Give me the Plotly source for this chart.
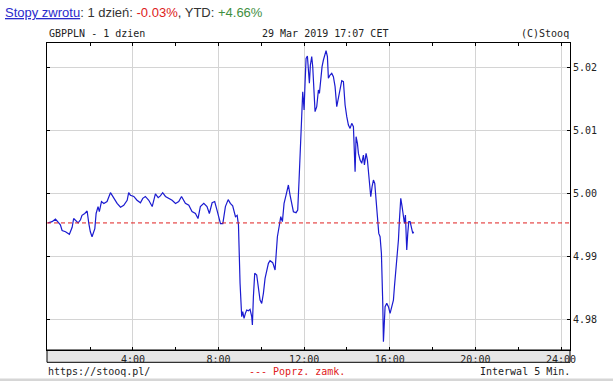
import plotly.graph_objects as go

# ---- data (GBPPLN, 29 Mar 2019, 5-min interval) ----
hours = [
    0.04, 0.22, 0.38, 0.50, 0.61, 0.69, 0.85, 1.03, 1.16, 1.23, 1.34, 1.44, 1.55, 1.62,
    1.75, 1.86, 1.94, 2.01, 2.09, 2.22, 2.28, 2.37, 2.43, 2.53, 2.64, 2.79, 2.95, 3.10,
    3.26, 3.42, 3.57, 3.73, 3.80, 3.88, 4.04, 4.19, 4.35, 4.46, 4.58, 4.74, 4.90, 5.05,
    5.18, 5.28, 5.39, 5.52, 5.67, 5.83, 5.99, 6.14, 6.27, 6.45, 6.61, 6.76, 6.92, 7.04,
    7.15, 7.31, 7.46, 7.57, 7.70, 7.82, 7.93, 8.09, 8.20, 8.32, 8.45, 8.55, 8.66, 8.79,
    8.87, 8.93,
    9.005, 9.036, 9.082, 9.129, 9.191, 9.254, 9.316, 9.394, 9.472, 9.550, 9.581, 9.628,
    9.690, 9.783, 9.861, 9.939, 10.017, 10.095, 10.173, 10.251, 10.329, 10.406, 10.531,
    10.640, 10.687, 10.749, 10.843, 10.905, 10.983, 11.061, 11.154, 11.263, 11.341,
    11.419, 11.497, 11.621, 11.699, 11.762, 11.808, 11.855, 11.902, 11.933, 11.964,
    11.995, 12.042, 12.089, 12.151, 12.198, 12.244, 12.291, 12.353, 12.400, 12.463,
    12.509, 12.587, 12.665, 12.712, 12.774, 12.836, 12.899, 12.977, 13.023, 13.086,
    13.132, 13.210, 13.288, 13.366, 13.444, 13.522, 13.600,
    13.678, 13.756, 13.834, 13.912, 13.990, 14.067, 14.145, 14.223, 14.301, 14.332,
    14.379, 14.426, 14.488, 14.535, 14.613, 14.690, 14.768, 14.815, 14.893, 14.955,
    15.033, 15.111, 15.173, 15.236, 15.298, 15.360, 15.423, 15.485, 15.547, 15.609,
    15.641, 15.672, 15.703, 15.750, 15.781, 15.859, 15.937, 16.014, 16.092, 16.170,
    16.217, 16.295, 16.357, 16.404, 16.451, 16.513, 16.575, 16.638, 16.684, 16.731,
    16.762, 16.793, 16.840, 16.887, 16.949, 17.011, 17.074, 17.117,
]
rate = [
    4.9953, 4.9955, 4.9959, 4.9955, 4.9950, 4.9941, 4.9939, 4.9935, 4.9946, 4.9960, 4.9957, 4.9953, 4.9958, 4.9965,
    4.9968, 4.9972, 4.9952, 4.9939, 4.9931, 4.9944, 4.9968, 4.9979, 4.9971, 4.9987, 4.9984, 4.9987, 5.0001, 4.9992,
    4.9984, 4.9978, 4.9981, 4.9989, 5.0001, 4.9997, 4.9995, 4.9989, 4.9985, 4.9992, 4.9995, 4.9989, 4.9979, 4.9999,
    4.9993, 4.9996, 5.0001, 4.9995, 4.9992, 4.9989, 4.9984, 4.9987, 4.9995, 4.9984, 4.9981, 4.9971, 4.9968, 4.9960,
    4.9979, 4.9984, 4.9979, 4.9968, 4.9985, 4.9987, 4.9973, 4.9952, 4.9952, 4.9979, 4.9990, 4.9984, 4.9980, 4.9963,
    4.9965, 4.9950,
    4.98571, 4.98200, 4.98042, 4.98121, 4.98015, 4.98095, 4.98148, 4.98137, 4.98158, 4.98042, 4.97910, 4.98359,
    4.98730, 4.98703, 4.98518, 4.98306, 4.98253, 4.98412, 4.98650, 4.98783, 4.98889, 4.98931, 4.98899,
    4.98783, 4.99047, 4.99311, 4.99497, 4.99629, 4.99550, 4.99841, 4.99973, 5.00132, 4.99973,
    4.99841, 4.99708, 4.99693, 4.99735, 5.00211, 5.00634, 5.01005, 5.01375, 5.01613, 5.01481,
    5.01322, 5.01746, 5.02142, 5.02179, 5.02010, 5.01746, 5.02037, 5.02169, 5.02010, 5.01481,
    5.01296, 5.01375, 5.01640, 5.01587, 5.01851, 5.02010, 5.02116, 5.02222, 5.02264, 5.02169,
    5.01825, 5.01878, 5.01904, 5.01851, 5.01693, 5.01375, 5.01534,
    5.01666, 5.01788, 5.01772, 5.01402, 5.01217, 5.01084, 5.01031, 5.01111, 5.01058, 5.00634,
    5.00343, 5.00899, 5.00793, 5.00634, 5.00528, 5.00476, 5.00608, 5.00449, 5.00634, 5.00528,
    5.00264, 4.99946, 5.00105, 5.00211, 5.00158, 4.99946, 4.99629, 4.99364, 4.99311, 4.99047,
    4.98730, 4.98253, 4.97645, 4.97936, 4.98200, 4.98253, 4.98200, 4.98095, 4.98200, 4.98306,
    4.98518, 4.98836, 4.99021, 4.99258, 4.99576, 4.99920, 4.99788, 4.99629, 4.99523, 4.99656,
    4.99417, 4.99100, 4.99364, 4.99550, 4.99550, 4.99470, 4.99364, 4.99391,
]
prev_close = 4.9953

x_tick_vals = [4, 8, 12, 16, 20, 24]
x_tick_text = ["4:00", "8:00", "12:00", "16:00", "20:00", "24:00"]
x_minor_vals = [2, 6, 10, 14, 18, 22]
y_tick_vals = [4.98, 4.99, 5.00, 5.01, 5.02]
y_tick_text = ["4.98", "4.99", "5.00", "5.01", "5.02"]

header_left = "GBPPLN - 1 dzien"
header_mid = "29 Mar 2019 17:07 CET"
header_right = "(C)Stooq"
footer_left = "https://stooq.pl/"
footer_mid = "--- Poprz. zamk."
footer_right = "Interwal 5 Min."
returns_text = ('<span style="color:#2a2acc"><u>Stopy zwrotu</u></span>: 1 dzień: '
                '<span style="color:#dd2020">-0.03%</span>, YTD: '
                '<span style="color:#3f8f3f">+4.66%</span>')

MONO = "DejaVu Sans Mono"
SANS = "Liberation Sans, Arial"
W, H = 613, 381
ML, MR, MT, MB = 47, 43, 43, 31
PW, PH = W - ML - MR, H - MT - MB


def px_x(x):
    return (x - ML) / PW


def px_y(y):
    return (H - MB - y) / PH


fig = go.Figure(go.Scatter(
    x=hours, y=rate, mode="lines",
    line=dict(color="#1b1bd0", width=1.2),
    hoverinfo="skip",
))

axis_common = dict(
    showgrid=True, gridcolor="#d4d4d4", gridwidth=1,
    ticks="inside", ticklen=3, tickcolor="black", tickwidth=1,
    showline=True, linecolor="black", linewidth=1, mirror="allticks",
    zeroline=False,
    tickfont=dict(family=MONO, size=10, color="#222222"),
)

fig.update_layout(
    width=W, height=H,
    margin=dict(l=ML, r=MR, t=MT, b=MB, pad=0),
    paper_bgcolor="white", plot_bgcolor="white",
    showlegend=False,
    xaxis=dict(
        range=[-0.015, 24.42], tickmode="array",
        tickvals=x_tick_vals, ticktext=x_tick_text,
        minor=dict(tickmode="array", tickvals=x_minor_vals, ticks="inside",
                   ticklen=3, tickcolor="black", showgrid=False),
        **axis_common,
    ),
    yaxis=dict(
        range=[4.97513, 5.02386], side="right", tickmode="array",
        tickvals=y_tick_vals, ticktext=y_tick_text,
        **axis_common,
    ),
    shapes=[
        dict(type="rect", xref="paper", yref="paper", x0=0, x1=1,
             y0=px_y(362.3), y1=0, fillcolor="#e6e6e6",
             line=dict(color="black", width=1), layer="below"),
        dict(type="line", xref="paper", yref="y", x0=0, x1=1,
             y0=prev_close, y1=prev_close,
             line=dict(color="#e02020", width=1, dash="4px,3px")),
        dict(type="rect", xref="paper", yref="paper", x0=px_x(0), x1=px_x(W),
             y0=px_y(381), y1=px_y(378.5), fillcolor="#d6d6d6",
             line=dict(width=0), layer="below"),
    ],
)

ann = []


def add(text, x, y, xa, font, color="#222222"):
    ann.append(dict(text=text, x=px_x(x), y=px_y(y), xref="paper", yref="paper",
                    xanchor=xa, yanchor="middle", showarrow=False,
                    font=dict(family=font[0], size=font[1], color=color), borderpad=0))


add(returns_text, 4, 13, "left", (SANS, 13), "#333333")
add(header_left, 48, 33.5, "left", (MONO, 10))
add(header_mid, 325, 33.5, "center", (MONO, 10))
add(header_right, 569.5, 33.5, "right", (MONO, 10))
add(footer_left, 47, 371, "left", (MONO, 10))
add(footer_mid, 297, 371, "center", (MONO, 10), "#e02020")
add(footer_right, 571, 371, "right", (MONO, 10))
fig.update_layout(annotations=ann)

fig.write_html("out.html")
